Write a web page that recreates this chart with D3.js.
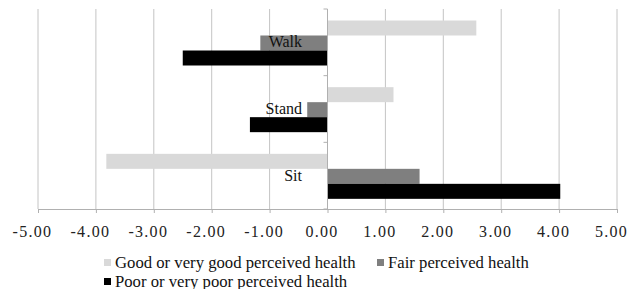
<!DOCTYPE html>
<html>
<head>
<meta charset="utf-8">
<script src="https://cdn.jsdelivr.net/npm/d3@7"></script>
<style>
  body { margin: 0; background: #fff; }
</style>
</head>
<body>
<script>
// activity categories, top to bottom
var activities = ['Walk', 'Stand', 'Sit'];
var seriesNames = ['Good or very good perceived health', 'Fair perceived health',
  'Poor or very poor perceived health'];
var goodVals = [2.57, 1.14, -3.82];
var fairVals = [-1.16, -0.35, 1.59];
var poorVals = [-2.50, -1.34, 4.02];
var tickVals = [-5, -4, -3, -2, -1, 0, 1, 2, 3, 4, 5];
var colors = ['#d9d9d9', '#7f7f7f', '#000000'];

var allVals = [goodVals, fairVals, poorVals];
var serif = '"Liberation Serif", "Times New Roman", serif';

var svg = d3.select('body').append('svg')
  .attr('width', 629)
  .attr('height', 289)
  .attr('font-family', serif);

var x = d3.scaleLinear().domain([-5, 5]).range([38, 617]);
var y = d3.scaleBand().domain(activities).range([9, 209]);
var ySub = d3.scaleBand().domain([0, 1, 2]).range([11.5, 56.5]);

// vertical gridlines
svg.selectAll('.grid')
  .data(tickVals.filter(function(d) { return d !== 0; }))
  .enter().append('line')
  .attr('x1', function(d) { return x(d); })
  .attr('x2', function(d) { return x(d); })
  .attr('y1', 9)
  .attr('y2', 209)
  .attr('stroke', '#c4c4c4')
  .attr('stroke-width', 1);

// bottom axis
var xAxis = d3.axisBottom(x)
  .tickValues(tickVals)
  .tickSize(4)
  .tickFormat(function(d) { return d.toFixed(2); });

var gx = svg.append('g')
  .attr('transform', 'translate(0,209)')
  .call(xAxis)
  .attr('font-family', serif);
gx.select('.domain').attr('stroke', '#b0b0b0');
gx.selectAll('.tick line').attr('stroke', '#b0b0b0');
gx.selectAll('.tick text')
  .attr('dy', '0')
  .attr('y', 28)
  .attr('dx', -6)
  .attr('font-size', 16)
  .style('letter-spacing', '1.3px')
  .attr('fill', '#222');

// bars
activities.forEach(function(act, i) {
  allVals.forEach(function(vals, s) {
    var v = vals[i];
    svg.append('rect')
      .attr('x', x(Math.min(0, v)))
      .attr('y', y(act) + ySub(s))
      .attr('width', Math.abs(x(v) - x(0)))
      .attr('height', ySub.bandwidth())
      .attr('fill', colors[s]);
  });
});

// zero line with category ticks
var gy = svg.append('g')
  .attr('transform', 'translate(' + x(0) + ',0)');
gy.append('line')
  .attr('y1', 9).attr('y2', 209)
  .attr('stroke', '#b0b0b0');
gy.selectAll('.ytick')
  .data([9, 209].concat(activities.slice(1).map(function(a) { return y(a); })))
  .enter().append('line')
  .attr('x1', -4).attr('x2', 0)
  .attr('y1', function(d) { return d; })
  .attr('y2', function(d) { return d; })
  .attr('stroke', '#b0b0b0');

// category labels
svg.selectAll('.cat')
  .data(activities)
  .enter().append('text')
  .attr('x', 302)
  .attr('y', function(d) { return y(d) + y.bandwidth() / 2 + 5; })
  .attr('text-anchor', 'end')
  .attr('font-size', 16)
  .attr('fill', '#111')
  .text(function(d) { return d; });

// legend
var legendPos = [[104, 263], [377, 263], [104, 282]];
seriesNames.forEach(function(name, s) {
  var p = legendPos[s];
  svg.append('rect')
    .attr('x', p[0])
    .attr('y', p[1] - 4)
    .attr('width', 7)
    .attr('height', 7)
    .attr('fill', colors[s]);
  svg.append('text')
    .attr('x', p[0] + 11)
    .attr('y', p[1] + 5)
    .attr('font-size', 16.7)
    .attr('fill', '#111')
    .text(name);
});
</script>
</body>
</html>
